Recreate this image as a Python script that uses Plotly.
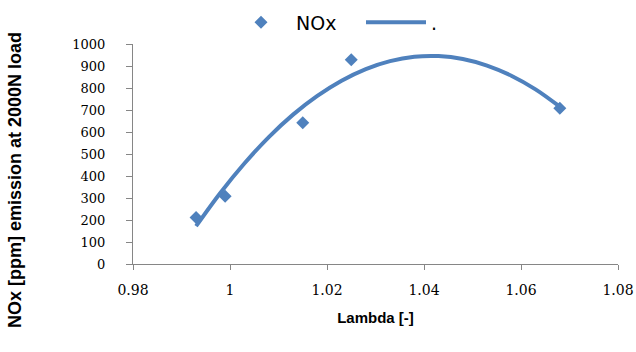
import plotly.graph_objects as go

# Measured NOx data points
lambda_vals = [0.993, 0.999, 1.015, 1.025, 1.068]
nox_vals = [211, 308, 642, 928, 708]

# Trend curve
curve_lambda = [0.993, 0.998, 1.003, 1.008, 1.013, 1.018, 1.023, 1.028,
                1.033, 1.038, 1.043, 1.048, 1.053, 1.058, 1.063, 1.068]
curve_nox = [172, 323, 458, 577, 679, 764, 833, 886,
             922, 942, 945, 932, 902, 856, 794, 715]

x_ticks = [0.98, 1.0, 1.02, 1.04, 1.06, 1.08]
x_tick_text = ["0.98", "1", "1.02", "1.04", "1.06", "1.08"]
y_ticks = [0, 100, 200, 300, 400, 500, 600, 700, 800, 900, 1000]

BLUE = "#4F81BD"
AXIS = "#868686"

fig = go.Figure()
fig.add_trace(go.Scatter(
    x=lambda_vals, y=nox_vals, mode="markers", name="NOx",
    marker=dict(symbol="diamond", size=10, color=BLUE),
))
fig.add_trace(go.Scatter(
    x=curve_lambda, y=curve_nox, mode="lines", name=".",
    line=dict(color=BLUE, width=4, shape="spline"),
))

fig.update_layout(
    width=636, height=352,
    margin=dict(l=133, r=18, t=44, b=88, autoexpand=False),
    paper_bgcolor="white", plot_bgcolor="white",
    font=dict(family="DejaVu Serif", color="#000000"),
    legend=dict(
        orientation="h", x=(226 - 133) / 485, xanchor="left", xref="paper",
        y=0.99, yref="container", yanchor="top",
        font=dict(family="DejaVu Sans", size=19, color="#000000"),
        itemwidth=60, entrywidth=60, bgcolor="rgba(0,0,0,0)",
    ),
    xaxis=dict(
        range=[0.98, 1.08], tickvals=x_ticks, ticktext=x_tick_text,
        showgrid=False, zeroline=False,
        showline=True, linecolor=AXIS, linewidth=1,
        ticks="outside", ticklen=5, tickcolor=AXIS,
        ticklabelstandoff=8,
        tickfont=dict(family="DejaVu Serif", size=14),
        title=dict(text="<b>Lambda [-]</b>", standoff=15,
                   font=dict(family="Liberation Sans", size=15)),
    ),
    yaxis=dict(
        range=[0, 1000], tickvals=y_ticks,
        showgrid=False, zeroline=False,
        showline=True, linecolor=AXIS, linewidth=1,
        ticks="outside", ticklen=6, tickcolor=AXIS,
        ticklabelstandoff=18,
        tickfont=dict(family="DejaVu Serif", size=13),
    ),
    annotations=[dict(
        text="<b>NOx [ppm] emission at 2000N load</b>",
        textangle=-90, showarrow=False,
        xref="paper", yref="paper",
        x=(15 - 133) / 485, y=(264 - 180) / 220,
        xanchor="center", yanchor="middle",
        font=dict(family="Liberation Sans", size=18, color="#000000"),
    )],
)

fig.write_html("out.html")
